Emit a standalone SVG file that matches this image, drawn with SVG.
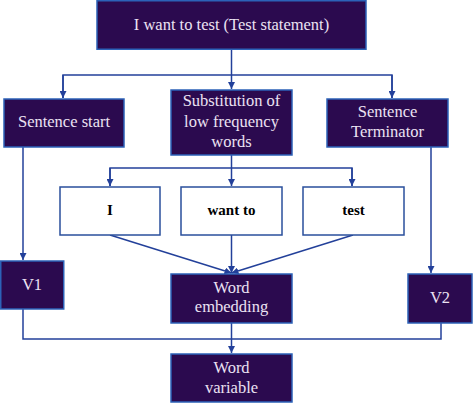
<svg xmlns="http://www.w3.org/2000/svg" width="473" height="403" viewBox="0 0 473 403">
<defs>
<marker id="ah" viewBox="0 0 8 8" refX="8" refY="4" markerWidth="7" markerHeight="7" markerUnits="userSpaceOnUse" orient="auto">
<path d="M0,0 L8,4 L0,8 z" fill="#23409a"/>
</marker>
<style>
.dark{fill:#2b0a4f;stroke:#2c62b8;stroke-width:1.5}
.light{fill:#ffffff;stroke:#2a4f9c;stroke-width:1.5}
.dt{font-family:'Liberation Serif','Times New Roman','DejaVu Serif',serif;font-size:16.5px;fill:#ece2f3;text-anchor:middle}
.lt{font-family:'Liberation Serif','Times New Roman','DejaVu Serif',serif;font-size:15px;font-weight:bold;fill:#000;text-anchor:middle}
.c{fill:none;stroke:#23409a;stroke-width:1.5}
</style>
</defs>
<g id="connectors">
<path class="c" d="M231.5,49 V89" marker-end="url(#ah)"/>
<path class="c" d="M63,98 V75 H392 V98"/>
<path class="c" d="M63,75 V98" marker-end="url(#ah)"/>
<path class="c" d="M392,75 V98" marker-end="url(#ah)"/>
<path class="c" d="M231.5,155 V186" marker-end="url(#ah)"/>
<path class="c" d="M110,186 V168 H352 V186"/>
<path class="c" d="M110,168 V186" marker-end="url(#ah)"/>
<path class="c" d="M352,168 V186" marker-end="url(#ah)"/>
<path class="c" d="M110,235 L231.5,273" marker-end="url(#ah)"/>
<path class="c" d="M231.5,235 V273" marker-end="url(#ah)"/>
<path class="c" d="M353,235 L231.5,273" marker-end="url(#ah)"/>
<path class="c" d="M23,147 V260" marker-end="url(#ah)"/>
<path class="c" d="M431,147 V273" marker-end="url(#ah)"/>
<path class="c" d="M23,309 V339 H441 V323"/>
<path class="c" d="M231.5,323 V353" marker-end="url(#ah)"/>
</g>
<g id="node-top">
<rect class="dark" x="97" y="0.75" width="269" height="48.5"/>
<text class="dt" x="231.5" y="30">I want to test (Test statement)</text>
</g>
<g id="node-sentence-start">
<rect class="dark" x="4" y="99" width="120" height="48"/>
<text class="dt" x="64" y="127">Sentence start</text>
</g>
<g id="node-substitution">
<rect class="dark" x="171" y="90" width="121" height="65"/>
<text class="dt" x="231.5" y="106">Substitution of</text>
<text class="dt" x="231.5" y="127">low frequency</text>
<text class="dt" x="231.5" y="147">words</text>
</g>
<g id="node-terminator">
<rect class="dark" x="327" y="99" width="121" height="48"/>
<text class="dt" x="387.5" y="117">Sentence</text>
<text class="dt" x="387.5" y="137">Terminator</text>
</g>
<g id="node-i">
<rect class="light" x="60" y="187" width="100" height="48"/>
<text class="lt" x="110" y="215">I</text>
</g>
<g id="node-want-to">
<rect class="light" x="181" y="187" width="101" height="48"/>
<text class="lt" x="231.5" y="215">want to</text>
</g>
<g id="node-test">
<rect class="light" x="303" y="187" width="101" height="48"/>
<text class="lt" x="353.5" y="215">test</text>
</g>
<g id="node-v1">
<rect class="dark" x="0.75" y="261" width="63" height="48"/>
<text class="dt" x="32" y="290">V1</text>
</g>
<g id="node-word-embedding">
<rect class="dark" x="171" y="274" width="121" height="49"/>
<text class="dt" x="231.5" y="293">Word</text>
<text class="dt" x="231.5" y="312">embedding</text>
</g>
<g id="node-v2">
<rect class="dark" x="408" y="274" width="64" height="49"/>
<text class="dt" x="440" y="303">V2</text>
</g>
<g id="node-word-variable">
<rect class="dark" x="171" y="354" width="121" height="48"/>
<text class="dt" x="231.5" y="373">Word</text>
<text class="dt" x="231.5" y="393">variable</text>
</g>
</svg>
